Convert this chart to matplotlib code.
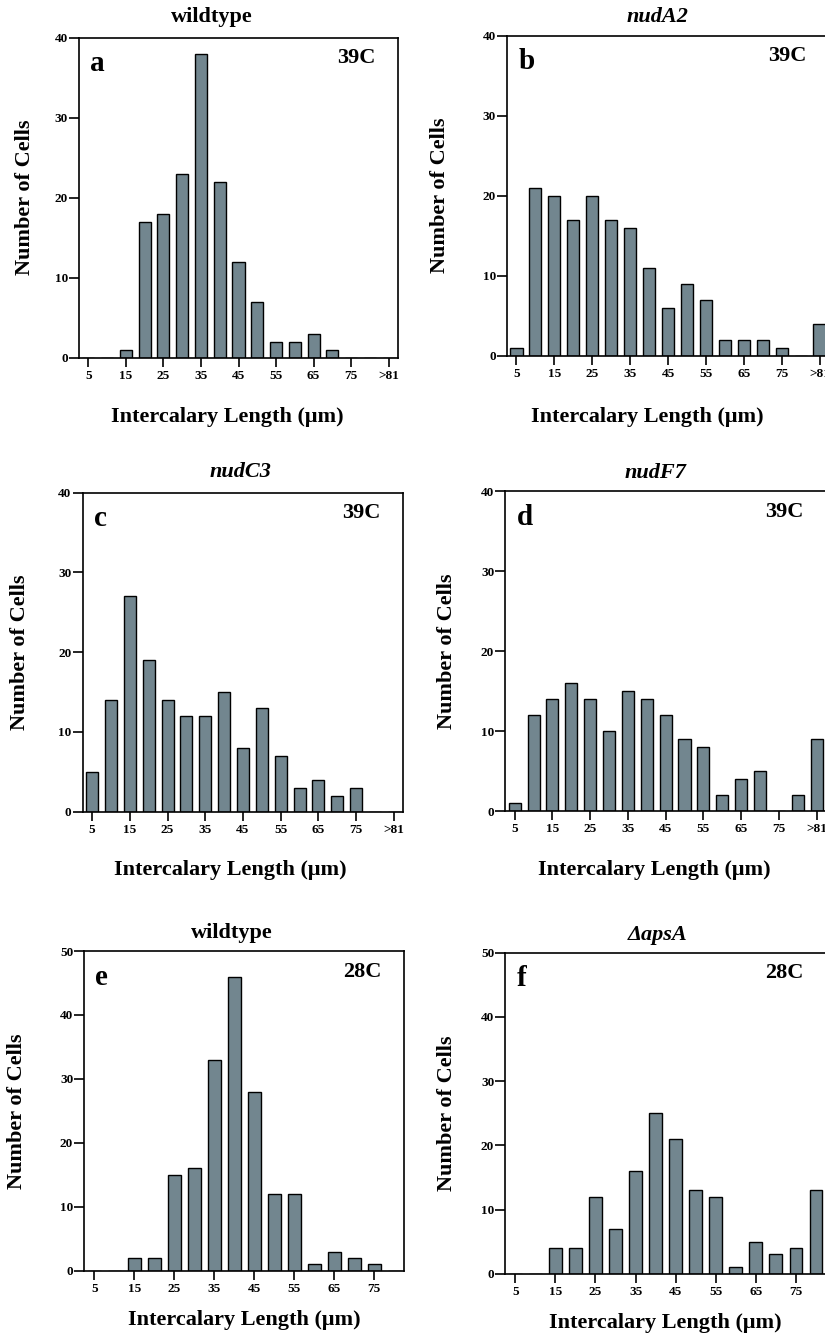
import numpy as np
import matplotlib
matplotlib.use('Agg')
import matplotlib.pyplot as plt

plt.rcParams['font.family'] = ['Liberation Serif', 'DejaVu Serif']
plt.rcParams['font.weight'] = 'bold'

# ---- data ----
bins_39 = ['5', '10', '15', '20', '25', '30', '35', '40', '45', '50',
           '55', '60', '65', '70', '75', '80', '>81']
bins_28 = ['5', '10', '15', '20', '25', '30', '35', '40', '45', '50',
           '55', '60', '65', '70', '75', '80']

wt_39 = [0, 0, 1, 17, 18, 23, 38, 22, 12, 7, 2, 2, 3, 1, 0, 0, 0]
nudA2_39 = [1, 21, 20, 17, 20, 17, 16, 11, 6, 9, 7, 2, 2, 2, 1, 0, 4]
nudC3_39 = [5, 14, 27, 19, 14, 12, 12, 15, 8, 13, 7, 3, 4, 2, 3, 0, 0]
nudF7_39 = [1, 12, 14, 16, 14, 10, 15, 14, 12, 9, 8, 2, 4, 5, 0, 2, 9]
wt_28 = [0, 0, 2, 2, 15, 16, 33, 46, 28, 12, 12, 1, 3, 2, 1, 0]
apsA_28 = [0, 0, 4, 4, 12, 7, 16, 25, 21, 13, 12, 1, 5, 3, 4, 13]

titles = ['wildtype', 'nudA2', 'nudC3', 'nudF7', 'wildtype', '\u0394apsA']
title_italic = [False, True, True, True, False, True]
letters = ['a', 'b', 'c', 'd', 'e', 'f']
temps = ['39C', '39C', '39C', '39C', '28C', '28C']
series = [wt_39, nudA2_39, nudC3_39, nudF7_39, wt_28, apsA_28]
bin_sets = [bins_39, bins_39, bins_39, bins_39, bins_28, bins_28]
y_max = [40, 40, 40, 40, 50, 50]

bar_color = '#72868f'

# ---- layout in pixels (x, y from top) ----
W, H = 825, 1335
# left, right, top, bottom of each axes box
boxes = [
    (79, 398, 37.7, 357.7),
    (507, 829, 35.7, 355.7),
    (82.7, 403.3, 492.7, 811.7),
    (505.3, 826, 491.3, 811),
    (84.3, 404.3, 951, 1270.7),
    (505.3, 826, 952.7, 1273.7),
]
title_pos = [(212, 17), (657, 17), (240, 472), (655, 473), (232, 933), (658, 935)]
xlabel_pos = [(227, 417), (647, 417), (230, 870), (654, 870), (244, 1320), (665, 1323)]
ylabel_x = [25, 440, 20, 447, 17, 447]

fig = plt.figure(figsize=(W / 100, H / 100), dpi=100)


def fx(px):
    return px / W


def fy(py):
    return 1 - py / H


for i in range(6):
    l, r, t, b = boxes[i]
    ax = fig.add_axes([fx(l), fy(b), fx(r) - fx(l), fy(t) - fy(b)])
    labels = bin_sets[i]
    x = np.arange(len(labels))
    ax.bar(x, series[i], width=0.64, color=bar_color, edgecolor='black',
           linewidth=1.0, zorder=2)
    ax.set_xlim(-0.5, len(labels) - 0.5)
    ax.set_ylim(0, y_max[i])

    tick_idx = list(range(0, len(labels), 2))
    ax.set_xticks(tick_idx)
    ax.set_xticklabels([labels[k] for k in tick_idx], fontsize=9.5, fontweight='bold')
    ax.set_yticks(np.arange(0, y_max[i] + 1, 10))
    ax.set_yticklabels([str(v) for v in range(0, y_max[i] + 1, 10)],
                       fontsize=9.5, fontweight='bold')
    ax.tick_params(axis='x', direction='out', length=6.5, width=1.2, pad=2)
    ax.tick_params(axis='y', direction='out', length=7, width=1.2, pad=1)
    for s in ax.spines.values():
        s.set_linewidth(1.2)

    # panel letter and temperature
    ax.text(0.035, 0.895, letters[i], transform=ax.transAxes, fontsize=21,
            fontweight='bold', ha='left', va='baseline')
    ax.text(0.93, 0.92, temps[i], transform=ax.transAxes, fontsize=16,
            fontweight='bold', ha='right', va='baseline')

    # title, axis labels
    tx, ty = title_pos[i]
    fig.text(fx(tx), fy(ty), titles[i], fontsize=16, fontweight='bold',
             style='italic' if title_italic[i] else 'normal',
             ha='center', va='center')
    lx, ly = xlabel_pos[i]
    fig.text(fx(lx), fy(ly), 'Intercalary Length (\u03bcm)', fontsize=16,
             fontweight='bold', ha='center', va='center')
    fig.text(fx(ylabel_x[i]), fy((t + b) / 2), 'Number of Cells', fontsize=16,
             fontweight='bold', rotation=90, ha='center', va='center')

plt.savefig('out.png', dpi=100)
